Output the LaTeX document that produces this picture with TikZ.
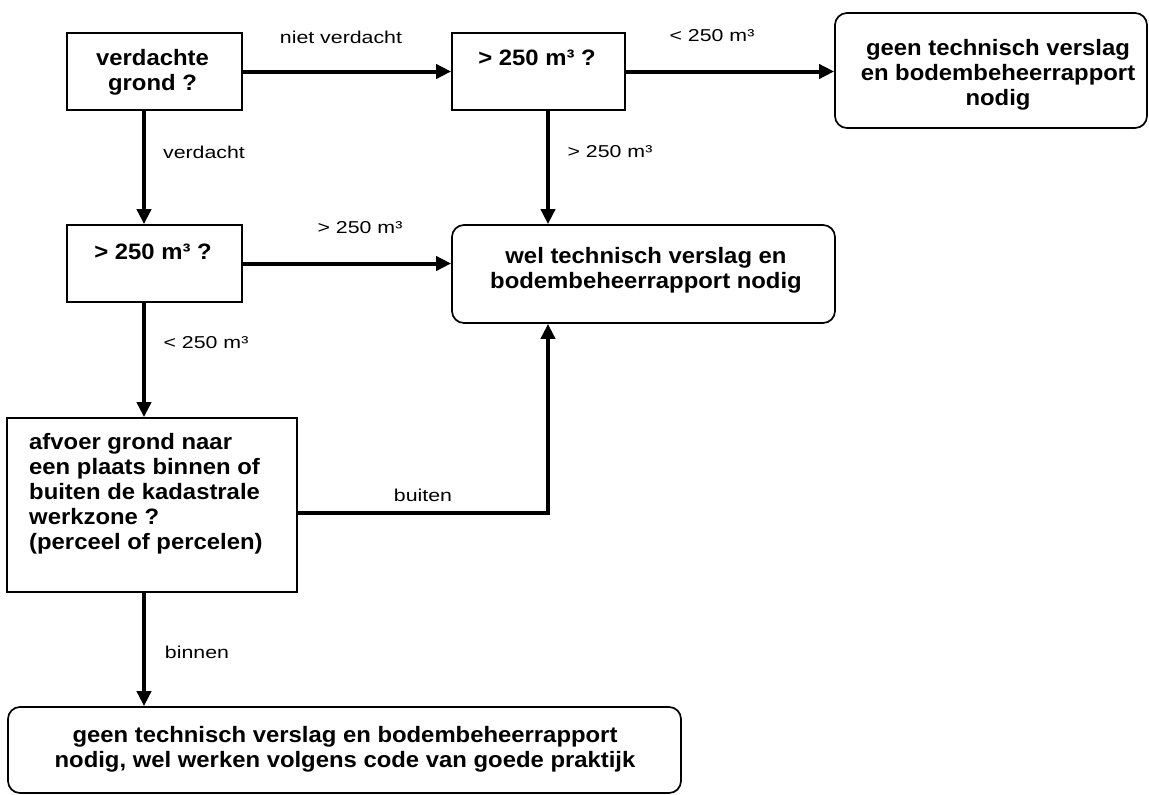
\documentclass[tikz,border=0pt]{standalone}
\usepackage{fontspec}
\setmainfont{Liberation Sans}
\newfontfamily\boxfont[FakeStretch=1.07]{Liberation Sans}
\newfontfamily\lblfont[FakeStretch=1.24]{Liberation Sans}
\usetikzlibrary{arrows.meta,calc}
\tikzset{
  box/.style={draw, line width=1.7pt, rectangle, inner sep=0pt},
  rbox/.style={box, rounded corners=12pt},
  btxt/.style={font=\boxfont\bfseries\fontsize{22.3}{25}\selectfont, align=center, inner sep=0pt},
  lbl/.style={font=\lblfont\fontsize{17.2}{20}\selectfont, inner sep=0pt},
  conn/.style={line width=4pt, -{Triangle[length=15pt,width=14pt]}}
}
\begin{document}
\begin{tikzpicture}[x=1pt,y=-1pt]
\useasboundingbox[fill=white] (0,0) rectangle (1149,795);
% boxes
\node[box, minimum width=175, minimum height=77] (b1) at (154.5,71.5) {};
\node[btxt] (t1) at (152.5,72.5) {verdachte\\grond ?};
\node[box, minimum width=173, minimum height=77] (b2) at (538.5,71.5) {};
\node[btxt] (t2) at (537,58) {> 250 m³ ?};
\node[rbox, minimum width=312, minimum height=115] (b3) at (991,70.5) {};
\node[btxt] (t3) at (998,75) {geen technisch verslag\\en bodembeheerrapport\\nodig};
\node[box, minimum width=175, minimum height=77] (b4) at (154.5,263.5) {};
\node[btxt] (t4) at (153,252) {> 250 m³ ?};
\node[rbox, minimum width=383, minimum height=98] (b5) at (643.5,274) {};
\node[btxt] (t5) at (646,270) {wel technisch verslag en\\bodembeheerrapport nodig};
\node[box, minimum width=290, minimum height=174] (b6) at (152,505) {};
\node[btxt, align=left, anchor=west] (t6) at (29,494) {afvoer grond naar\\een plaats binnen of\\buiten de kadastrale\\werkzone ?\\(perceel of percelen)};
\node[rbox, minimum width=673, minimum height=86] (b7) at (344.5,750) {};
\node[btxt] (t7) at (345,749.5) {geen technisch verslag en bodembeheerrapport\\nodig, wel werken volgens code van goede praktijk};
% connector columns
\coordinate (cL) at (144,0);
\coordinate (cR) at (548,0);
% connectors
\draw[conn] (b1.east) -- (b2.west);
\draw[conn] (b2.east) -- (b2.east -| b3.west);
\draw[conn] (b1.south -| cL) -- (b4.north -| cL);
\draw[conn] (b2.south -| cR) -- (b5.north -| cR);
\draw[conn] (b4.east) -- (b4.east -| b5.west);
\draw[conn] (b4.south -| cL) -- (b6.north -| cL);
\draw[conn] ($(b6.east)+(0,8)$) -| (b5.south -| cR);
\draw[conn] (b6.south -| cL) -- (b7.north -| cL);
% labels
\node[lbl] (l1) at (341,37) {niet verdacht};
\node[lbl] (l2) at (712,36) {< 250 m³};
\node[lbl] (l3) at (204,152) {verdacht};
\node[lbl] (l4) at (610,152) {> 250 m³};
\node[lbl] (l5) at (360,228) {> 250 m³};
\node[lbl] (l6) at (206,343) {< 250 m³};
\node[lbl] (l7) at (423,495) {buiten};
\node[lbl] (l8) at (197,652) {binnen};
\end{tikzpicture}
\end{document}
